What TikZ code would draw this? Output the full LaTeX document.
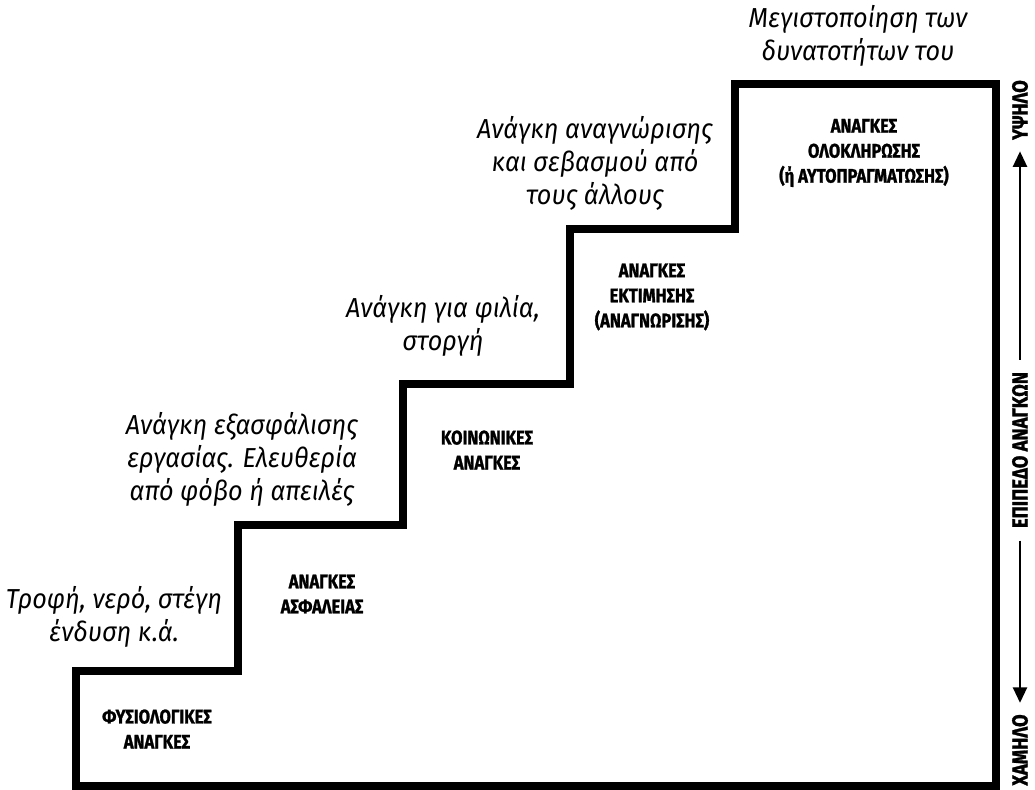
\documentclass[tikz,border=0pt]{standalone}
\usepackage{fontspec}
\setmainfont{Fira Sans}
\newfontfamily\needfont[FakeStretch=0.92]{Fira Sans}
\newfontfamily\stepfont[FakeStretch=0.84,BoldFeatures={FakeBold=1.2}]{Fira Sans}
\usetikzlibrary{arrows.meta}

\tikzset{
  stair/.style={line width=5.2pt,line join=miter},
  need/.style={align=center,font=\needfont\itshape\fontsize{19.5}{23.5}\selectfont,inner sep=0pt},
  steplabel/.style={align=center,font=\stepfont\bfseries\fontsize{14}{17.8}\selectfont,inner sep=0pt},
  axislabel/.style={rotate=90,font=\stepfont\bfseries\fontsize{15.5}{17}\selectfont,inner sep=3pt},
  axisarrow/.style={line width=1.5pt,-{Triangle[length=11pt,width=10pt]}}
}

\begin{document}
\begin{tikzpicture}[x=0.025cm,y=-0.025cm]
  \useasboundingbox (0,0) rectangle (1035,790);
  % staircase
  \draw[stair] (76,786) |- (238,671) |- (403,525) |- (570,384) |- (735,229) |- (996,84) -- (996,786) -- cycle;

  % needs above the steps
  \node[need] (n1) at (114,617) {Τροφή, νερό, στέγη\\ένδυση κ.ά.};
  \node[need] (n2) at (242,459) {Ανάγκη εξασφάλισης\\εργασίας. Ελευθερία\\από φόβο ή απειλές};
  \node[need] (n3) at (443,326) {Ανάγκη για φιλία,\\στοργή};
  \node[need] (n4) at (595,163) {Ανάγκη αναγνώρισης\\και σεβασμού από\\τους άλλους};
  \node[need] (n5) at (858,36) {Μεγιστοποίηση των\\δυνατοτήτων του};

  % names of the steps
  \node[steplabel] (s1) at (157,729) {ΦΥΣΙΟΛΟΓΙΚΕΣ\\ΑΝΑΓΚΕΣ};
  \node[steplabel] (s2) at (322,594) {ΑΝΑΓΚΕΣ\\ΑΣΦΑΛΕΙΑΣ};
  \node[steplabel] (s3) at (487,450) {ΚΟΙΝΩΝΙΚΕΣ\\ΑΝΑΓΚΕΣ};
  \node[steplabel] (s4) at (652,297) {ΑΝΑΓΚΕΣ\\ΕΚΤΙΜΗΣΗΣ\\(ΑΝΑΓΝΩΡΙΣΗΣ)};
  \node[steplabel] (s5) at (864,153) {ΑΝΑΓΚΕΣ\\ΟΛΟΚΛΗΡΩΣΗΣ\\(ή ΑΥΤΟΠΡΑΓΜΑΤΩΣΗΣ)};

  % level axis
  \node[axislabel] (level) at (1020,450) {ΕΠΙΠΕΔΟ ΑΝΑΓΚΩΝ};
  \node[axislabel] (high) at (1020,110) {ΥΨΗΛΟ};
  \node[axislabel] (low) at (1020,750) {ΧΑΜΗΛΟ};
  \draw[axisarrow] (level.east) ++(0,-8) -- ([yshift=-5pt]high.west);
  \draw[axisarrow] (level.west) ++(0,8) -- ([yshift=5pt]low.east);
\end{tikzpicture}
\end{document}
